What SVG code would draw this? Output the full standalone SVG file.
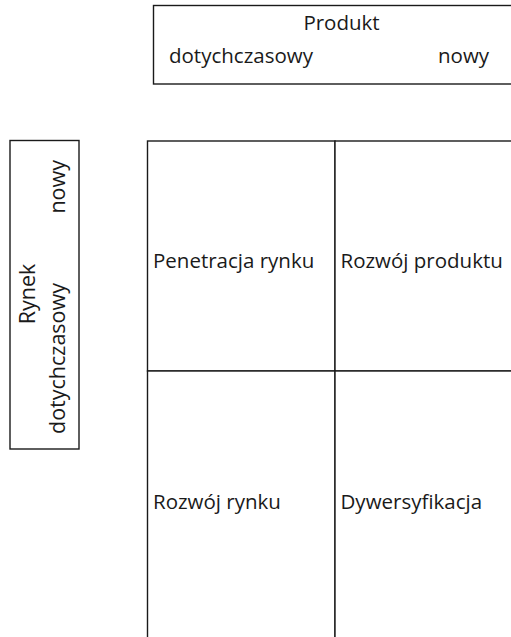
<svg xmlns="http://www.w3.org/2000/svg" width="511" height="637" viewBox="0 0 511 637">
<style>
.box{fill:#fff;stroke:#1a1a1a;stroke-width:1.4}
.t{font-family:"Open Sans","Noto Sans",sans-serif;font-size:20.5px;fill:#1a1a1a}
.v{font-size:21.5px}
</style>
<rect x="0" y="0" width="511" height="637" fill="#fff"/>
<g id="produkt-axis">
<rect class="box" x="153.5" y="5.5" width="420" height="78.5"/>
<text class="t" x="341.5" y="30" text-anchor="middle">Produkt</text>
<text class="t" x="169" y="62.5">dotychczasowy</text>
<text class="t" x="438" y="62.5">nowy</text>
</g>
<g id="rynek-axis">
<rect class="box" x="10" y="140.5" width="69" height="308.5"/>
<text class="t v" transform="translate(34.5,294) rotate(-90)" text-anchor="middle">Rynek</text>
<text class="t v" transform="translate(65,434) rotate(-90)">dotychczasowy</text>
<text class="t v" transform="translate(65,160) rotate(-90)" text-anchor="end">nowy</text>
</g>
<g id="penetracja-rynku">
<rect class="box" x="147.5" y="141" width="187.5" height="230"/>
<text class="t" x="153" y="267.5">Penetracja rynku</text>
</g>
<g id="rozwoj-produktu">
<rect class="box" x="335" y="141" width="220" height="230"/>
<text class="t" x="340.5" y="267.5">Rozwój produktu</text>
</g>
<g id="rozwoj-rynku">
<rect class="box" x="147.5" y="371" width="187.5" height="300"/>
<text class="t" x="153" y="509">Rozwój rynku</text>
</g>
<g id="dywersyfikacja">
<rect class="box" x="335" y="371" width="220" height="300"/>
<text class="t" x="340.5" y="509">Dywersyfikacja</text>
</g>
<g id="connectors"></g>
</svg>
